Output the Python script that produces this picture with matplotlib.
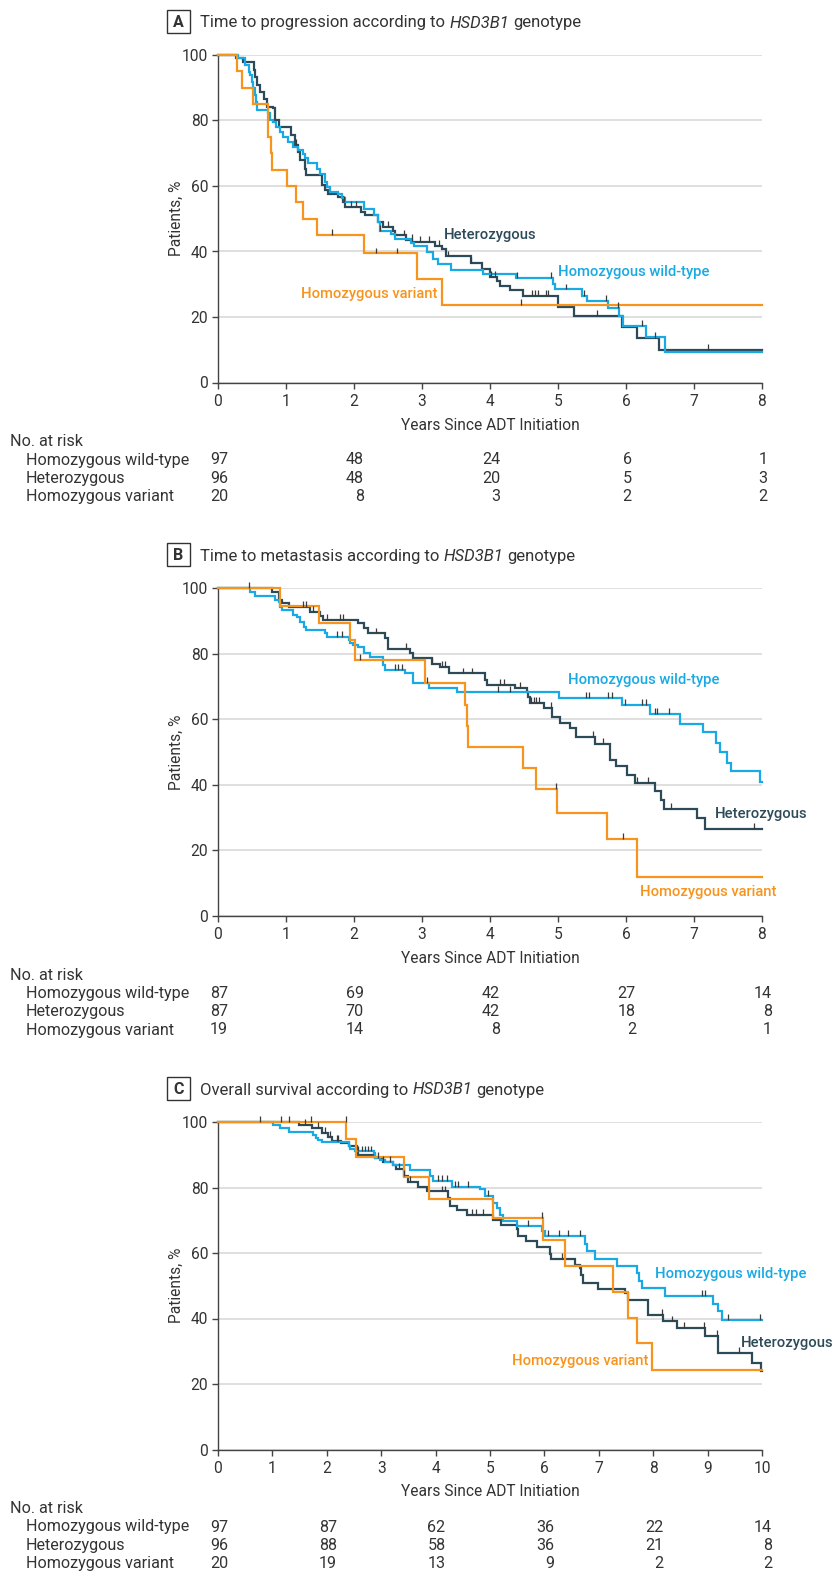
import numpy as np
import matplotlib
matplotlib.use('Agg')
import matplotlib.pyplot as plt
from matplotlib.patches import Rectangle
from matplotlib import transforms

# ---------------- data ----------------
groups = ["Homozygous wild-type", "Heterozygous", "Homozygous variant"]

# Panel A: time to progression
A_wt_t = [0.30, 0.40, 0.45, 0.47, 0.50, 0.52, 0.54, 0.56, 0.57, 0.74, 0.77, 0.81, 0.86, 0.91, 0.96,
          1.03, 1.11, 1.17, 1.25, 1.28, 1.33, 1.45, 1.50, 1.57, 1.60, 1.65, 1.77, 1.82, 1.87, 2.14,
          2.30, 2.35, 2.38, 2.54, 2.60, 2.84, 2.88, 3.08, 3.16, 3.23, 3.43, 3.89, 4.38, 4.93, 4.96,
          5.35, 5.43, 5.74, 5.89, 5.95, 6.30, 6.58]
A_wt_s = [99.0, 96.9, 94.9, 93.9, 91.8, 89.8, 87.8, 85.7, 83.2, 82.2, 80.1, 79.6, 78.1, 76.6, 75.0,
          73.5, 72.0, 70.9, 69.9, 68.4, 66.9, 65.3, 63.8, 61.3, 59.7, 58.2, 57.7, 56.2, 55.1, 53.1,
          51.0, 49.0, 46.4, 45.4, 43.9, 42.6, 41.6, 39.8, 37.8, 36.2, 34.4, 33.2, 31.8, 30.1, 28.4,
          26.5, 24.8, 22.7, 20.4, 17.3, 13.8, 9.2]
A_wt_c = [2.38, 4.40, 4.90, 5.12, 5.38, 5.70, 5.88, 6.24]
A_het_t = [0.27, 0.37, 0.53, 0.544, 0.57, 0.62, 0.67, 0.72, 0.81, 0.84, 0.89, 1.08, 1.13, 1.18, 1.21,
           1.28, 1.30, 1.53, 1.57, 1.62, 1.77, 1.84, 1.87, 2.11, 2.16, 2.36, 2.43, 2.57, 2.60, 2.76,
           2.86, 3.19, 3.30, 3.36, 3.72, 3.88, 4.00, 4.10, 4.15, 4.30, 4.49, 5.00, 5.23, 5.94, 6.16, 6.48]
A_het_s = [99.2, 98.0, 95.4, 93.4, 90.8, 88.8, 86.7, 84.2, 83.7, 80.1, 78.1, 75.5, 72.5, 70.4, 67.9,
           65.3, 63.3, 60.2, 58.7, 57.7, 56.7, 55.1, 53.6, 52.1, 51.1, 49.0, 47.5, 46.4, 44.9, 43.6,
           42.9, 41.8, 40.8, 38.5, 36.5, 34.7, 32.1, 31.1, 29.6, 28.1, 26.3, 23.2, 20.4, 16.8, 13.6, 9.9]
A_het_c = [1.15, 1.85, 1.95, 2.03, 2.50, 2.73, 2.85, 2.97, 3.11, 3.25, 3.38, 3.72, 4.01, 4.08,
           4.62, 4.66, 4.70, 4.82, 4.85, 5.58, 6.42, 7.20]
A_var_t = [0.28, 0.36, 0.51, 0.74, 0.78, 0.80, 1.01, 1.15, 1.25, 1.46, 2.14, 2.93, 3.30]
A_var_s = [95.0, 90.0, 85.0, 75.0, 70.0, 65.0, 60.0, 55.0, 50.0, 45.0, 39.4, 31.6, 23.7]
A_var_c = [1.67, 2.32, 2.63, 4.46]
A_risk_wt = [97, 48, 24, 6, 1]
A_risk_het = [96, 48, 20, 5, 3]
A_risk_var = [20, 8, 3, 2, 2]

# Panel B: time to metastasis
B_wt_t = [0.47, 0.54, 0.84, 0.89, 0.91, 0.94, 1.11, 1.16, 1.21, 1.26, 1.30, 1.57, 1.60, 1.92, 1.94,
          1.99, 2.06, 2.14, 2.24, 2.43, 2.46, 2.75, 2.87, 3.10, 3.51, 5.01, 5.94, 6.36, 6.79, 7.13,
          7.33, 7.38, 7.48, 7.55, 7.97]
B_wt_s = [99.0, 97.6, 96.4, 95.9, 94.4, 93.4, 91.8, 91.3, 89.8, 88.3, 87.3, 86.3, 85.2, 84.2, 83.2,
          82.7, 82.2, 80.1, 79.1, 76.6, 75.1, 74.0, 71.0, 69.5, 68.3, 66.4, 64.4, 61.6, 58.6, 56.0,
          52.9, 49.9, 46.8, 44.3, 41.0]
B_wt_c = [1.75, 1.82, 2.60, 2.65, 2.70, 4.12, 4.30, 5.41, 5.46, 5.74, 5.80, 5.98, 6.24, 6.29,
          6.43, 6.45, 6.63]
B_het_t = [0.79, 0.89, 0.94, 1.05, 1.35, 1.50, 1.55, 2.06, 2.14, 2.21, 2.46, 2.50, 2.82, 2.87, 3.14,
           3.26, 3.39, 3.93, 3.95, 4.37, 4.54, 4.56, 4.59, 4.79, 4.91, 5.03, 5.18, 5.27, 5.54, 5.76,
           5.86, 6.01, 6.13, 6.43, 6.52, 6.56, 7.04, 7.16]
B_het_s = [99.0, 96.4, 95.4, 94.4, 92.9, 91.6, 90.3, 89.3, 87.8, 86.2, 84.7, 81.5, 80.1, 78.6, 77.0,
           76.0, 74.0, 72.0, 70.5, 69.5, 68.4, 66.9, 64.9, 63.4, 60.8, 58.8, 57.3, 54.7, 52.5, 47.6,
           45.6, 43.1, 40.5, 38.0, 35.4, 32.6, 29.9, 26.6]
B_het_c = [1.25, 1.30, 1.40, 1.60, 1.79, 1.84, 2.33, 2.77, 3.14, 3.29, 3.34, 3.61, 3.74, 4.15,
           4.20, 4.44, 4.60, 4.64, 4.68, 4.72, 4.90, 5.52, 5.66, 6.16, 6.33, 6.66, 7.88]
B_var_t = [0.91, 1.48, 1.94, 2.02, 3.04, 3.63, 3.66, 3.68, 4.49, 4.68, 4.98, 5.72, 6.16]
B_var_s = [94.7, 89.5, 84.2, 78.2, 71.0, 64.5, 58.0, 51.5, 45.2, 38.8, 31.3, 23.4, 11.7]
B_var_c = [0.46, 2.09, 3.07, 4.97, 5.96]
B_risk_wt = [87, 69, 42, 27, 14]
B_risk_het = [87, 70, 42, 18, 8]
B_risk_var = [19, 14, 8, 2, 1]

# Panel C: overall survival
C_wt_t = [1.02, 1.14, 1.31, 1.75, 1.80, 1.84, 1.91, 2.40, 2.43, 2.52, 2.86, 2.89, 2.98, 3.07, 3.22,
          3.53, 3.90, 3.96, 4.30, 4.82, 4.91, 5.06, 5.12, 5.18, 5.24, 5.49, 5.95, 6.01, 6.75, 6.78,
          6.93, 7.33, 7.70, 7.74, 7.80, 8.22, 9.10, 9.20, 9.26]
C_wt_s = [99.2, 98.2, 97.0, 96.1, 95.1, 94.6, 93.8, 92.6, 91.8, 91.0, 90.5, 88.9, 88.5, 87.9, 86.9,
          85.4, 83.6, 81.9, 80.2, 79.5, 77.3, 75.3, 73.7, 71.7, 69.7, 68.3, 66.6, 65.1, 62.7, 60.5,
          58.2, 55.9, 53.9, 51.3, 49.3, 46.9, 44.5, 42.2, 39.6]
C_wt_c = [2.58, 2.64, 2.70, 2.76, 2.82, 4.05, 4.12, 4.21, 4.35, 4.41, 4.60, 4.97, 5.70, 6.07,
          6.26, 6.44, 6.65, 8.89, 8.95, 9.38, 9.96]
C_het_t = [1.48, 1.72, 1.91, 2.03, 2.09, 2.27, 2.40, 2.55, 2.57, 2.89, 3.04, 3.22, 3.28, 3.41, 3.50,
           3.68, 3.84, 4.23, 4.27, 4.39, 4.57, 5.06, 5.21, 5.49, 5.52, 5.67, 5.86, 6.10, 6.13, 6.56,
           6.65, 6.68, 6.71, 6.99, 7.48, 7.54, 7.91, 8.18, 8.43, 8.95, 9.20, 9.81, 9.99]
C_het_s = [99.2, 98.2, 96.6, 95.4, 94.1, 93.6, 92.6, 91.0, 90.0, 88.9, 87.9, 86.9, 85.6, 83.4, 81.6,
           80.1, 78.8, 76.8, 74.4, 73.2, 71.7, 70.0, 68.7, 67.2, 65.1, 63.6, 61.9, 59.8, 58.2, 56.4,
           55.4, 53.4, 50.8, 49.0, 47.8, 45.8, 41.2, 39.1, 37.1, 34.6, 29.5, 26.4, 23.9]
C_het_c = [0.77, 1.15, 1.31, 1.60, 1.83, 1.97, 2.05, 2.18, 2.21, 2.95, 3.04, 3.16, 3.32, 3.41,
           3.53, 4.12, 4.18, 4.66, 4.75, 4.88, 6.32, 8.17, 8.35, 8.57, 8.93, 9.18, 9.57]
C_var_t = [2.36, 2.54, 3.41, 3.87, 5.06, 5.98, 6.38, 7.27, 7.54, 7.70, 7.97]
C_var_s = [94.8, 89.3, 83.2, 76.5, 70.7, 64.1, 55.9, 48.0, 40.2, 32.4, 24.2]
C_var_c = [1.71, 2.35, 5.95]
C_risk_wt = [97, 87, 62, 36, 22, 14]
C_risk_het = [96, 88, 58, 36, 21, 8]
C_risk_var = [20, 19, 13, 9, 2, 2]

title_pre = ["Time to progression according to",
             "Time to metastasis according to",
             "Overall survival according to"]
title_gene = "HSD3B1"
title_post = "genotype"
letters = ["A", "B", "C"]
xlabel = "Years Since ADT Initiation"
ylabel = "Patients, %"

# ---------------- style ----------------
W, H = 832, 1577
plt.rcParams['font.family'] = ['Roboto', 'DejaVu Sans']

TXT = '#333333'
SPINE = '#444444'
COLORS = ['#19A9E3', '#2D4A59', '#F7941D']
FS = 11.2       # ticks / axis labels
FS_T = 11.6     # risk table
FS_L = 10.6     # curve labels

fig = plt.figure(figsize=(W / 100, H / 100), dpi=100)
renderer = fig.canvas.get_renderer()


def fx(x):
    return x / W


def fy(y):
    return 1 - y / H


def step_value(t, s, c):
    idx = np.searchsorted(np.asarray(t), c, side='right')
    vals = np.concatenate([[100.0], np.asarray(s, float)])
    return vals[idx]


def width_px(s, **kw):
    t = fig.text(0, 0, s, **kw)
    w = t.get_window_extent(renderer).width
    t.remove()
    return w


def title_run(x, y, pieces, **kw):
    space = width_px("a a", **kw) - width_px("aa", **kw)
    for s, style in pieces:
        t = fig.text(fx(x), fy(y), s, fontstyle=style, ha='left', va='baseline', **kw)
        x += t.get_window_extent(renderer).width + space


def panel(off, k, xmax, series, risks, label_specs):
    ax = fig.add_axes([fx(218), fy(382.5 + off), (762 - 218) / W, 327.5 / H])
    ax.set_xlim(0, xmax)
    ax.set_ylim(0, 100)
    ax.set_xticks(range(0, xmax + 1))
    ax.set_yticks(range(0, 101, 20))
    ax.grid(axis='y', color='#dcdcdc', lw=1.3)
    ax.set_axisbelow(True)
    for sp in ['top', 'right']:
        ax.spines[sp].set_visible(False)
    for sp in ['left', 'bottom']:
        ax.spines[sp].set_color(SPINE)
        ax.spines[sp].set_linewidth(1.0)
    ax.tick_params(axis='both', direction='out', length=4, width=1, color=SPINE,
                   labelsize=FS, labelcolor=TXT)
    ax.tick_params(axis='x', pad=4)
    ax.tick_params(axis='y', pad=3)

    order = [1, 0, 2]
    for i in order:
        t, s, cens = series[i]
        xs = np.concatenate([[0.0], t, [xmax]])
        ys = np.concatenate([[100.0], s, [s[-1]]])
        ax.step(xs, ys, where='post', color=COLORS[i], lw=1.6, clip_on=False,
                zorder=3 + (i == 0) + 2 * (i == 2), solid_joinstyle='miter')
    for i in order:
        t, s, cens = series[i]
        cy = step_value(t, s, cens)
        ax.vlines(cens, cy, cy + 1.8, colors='#3a3a3a', lw=0.9, zorder=7, clip_on=False)

    for (i, tx, ty) in label_specs:
        ax.text(tx, ty, groups[i], color=COLORS[i], fontsize=FS_L, fontweight='medium',
                ha='left', va='center', clip_on=False)

    # title with boxed letter
    fig.add_artist(Rectangle((fx(167), fy(33 + off)), 23 / W, 23 / H, transform=fig.transFigure,
                             fill=False, ec=TXT, lw=1.0))
    fig.text(fx(178.5), fy(27 + off), letters[k], ha='center', va='baseline', fontsize=11.5,
             fontweight='bold', color=TXT)
    title_run(200, 27.5 + off, [(title_pre[k], 'normal'), (title_gene, 'italic'),
                                (title_post, 'normal')], fontsize=12, color=TXT)

    fig.text(fx(176), fy(218.75 + off), ylabel, rotation=90, ha='center', va='center',
             fontsize=FS, color=TXT)
    fig.text(fx(490), fy(425 + off), xlabel, ha='center', va='center', fontsize=FS, color=TXT)

    # risk table
    fig.text(fx(10), fy(441.7 + off), "No. at risk", ha='left', va='center', fontsize=FS_T,
             color=TXT)
    rows_y = [460, 478.3, 496.7]
    xpos = list(range(0, xmax + 1, 2))
    blend = transforms.blended_transform_factory(ax.transData, fig.transFigure)
    for r in range(3):
        fig.text(fx(26), fy(rows_y[r] + off), groups[r], ha='left', va='center', fontsize=FS_T,
                 color=TXT)
    digit_w = width_px("0", fontsize=FS_T)
    for j, xv in enumerate(xpos):
        nd = max(len(str(risks[r][j])) for r in range(3))
        dx = nd * digit_w / 2 + 1
        tr = blend + transforms.ScaledTranslation(dx / 100, 0, fig.dpi_scale_trans)
        for r in range(3):
            fig.text(xv, fy(rows_y[r] + off), str(risks[r][j]), transform=tr, ha='right',
                     va='center', fontsize=FS_T, color=TXT)
    return ax


panel(0, 0, 8,
      [(A_wt_t, A_wt_s, A_wt_c), (A_het_t, A_het_s, A_het_c), (A_var_t, A_var_s, A_var_c)],
      [A_risk_wt, A_risk_het, A_risk_var],
      [(1, 3.32, 44.9), (0, 5.0, 33.7), (2, 1.22, 27.0)])
panel(533.3, 1, 8,
      [(B_wt_t, B_wt_s, B_wt_c), (B_het_t, B_het_s, B_het_c), (B_var_t, B_var_s, B_var_c)],
      [B_risk_wt, B_risk_het, B_risk_var],
      [(0, 5.14, 72.0), (1, 7.31, 31.1), (2, 6.2, 7.4)])
panel(1067.0, 2, 10,
      [(C_wt_t, C_wt_s, C_wt_c), (C_het_t, C_het_s, C_het_c), (C_var_t, C_var_s, C_var_c)],
      [C_risk_wt, C_risk_het, C_risk_var],
      [(0, 8.03, 53.7), (1, 9.62, 32.5), (2, 5.40, 26.9)])

fig.savefig('out.png', dpi=100, facecolor='white')
